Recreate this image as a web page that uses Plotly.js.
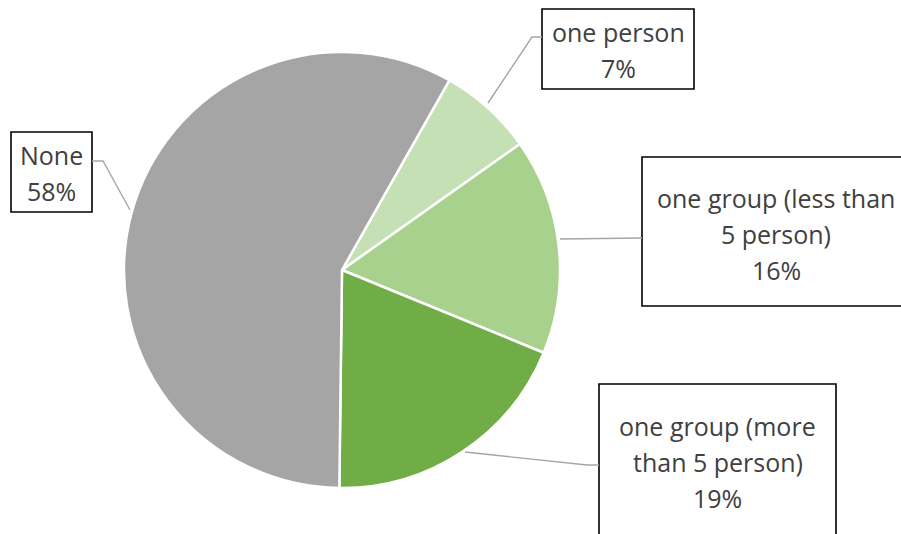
<!DOCTYPE html>
<html>
<head>
<meta charset="utf-8">
<script src="https://cdn.plot.ly/plotly-3.0.1.min.js"></script>
<style>html,body{margin:0;padding:0;background:#fff;}#chart{width:901px;height:534px;}</style>
</head>
<body>
<div id="chart"></div>
<script>
// ---- data ----
const categories = ["one person", "one group (less than 5 person)", "one group (more than 5 person)", "None"];
const labelLines = [["one person"], ["one group (less than", "5 person)"], ["one group (more", "than 5 person)"], ["None"]];
const values = [7, 16, 19, 58];
const colors = ["#C5E0B4", "#A9D18E", "#70AD47", "#A5A5A5"];

// ---- layout helpers (pixel -> paper) ----
const W = 901, H = 534;
const px = x => x / W;
const py = y => 1 - y / H;

// label box geometry (pixels): [left, top, right, bottom], leader path points
const boxes = [
  {box: [542, 9, 694, 89],  leader: [[542, 37], [532, 37], [488, 103]]},
  {box: [642, 157, 910, 306], leader: [[642, 238], [560, 239]]},
  {box: [599, 384, 836, 545], leader: [[599, 465], [587, 465], [465, 452]]},
  {box: [11, 132, 92, 212], leader: [[92, 161], [103, 161], [130, 210]]}
];
const lineGap = 36;

const total = values.reduce((a, b) => a + b, 0);
const shapes = [], annotations = [];
boxes.forEach((b, i) => {
  const [l, t, r, btm] = b.box;
  shapes.push({type: 'rect', xref: 'paper', yref: 'paper', x0: px(l), x1: px(r), y0: py(btm), y1: py(t),
    line: {color: '#000000', width: 1.6}, fillcolor: 'rgba(0,0,0,0)'});
  const d = b.leader.map((p, k) => (k ? 'L' : 'M') + px(p[0]) + ',' + py(p[1])).join(' ');
  shapes.push({type: 'path', xref: 'paper', yref: 'paper', path: d, line: {color: '#A6A6A6', width: 1.4}});
  const lines = labelLines[i].concat([Math.round(values[i] / total * 100) + '%']);
  let cx = (l + r) / 2;
  if (i === 1) cx = 776;
  let cy = (t + btm) / 2;
  if (i === 2) cy = 462;
  if (i === 3) cy = 173;
  if (i === 0) cy = 50;
  if (i === 1) cy = 234;
  const start = cy - (lines.length - 1) * lineGap / 2;
  lines.forEach((txt, k) => {
    annotations.push({xref: 'paper', yref: 'paper', x: px(cx), y: py(start + k * lineGap),
      xanchor: 'center', yanchor: 'middle', text: txt, showarrow: false,
      font: {family: 'Open Sans, sans-serif', size: 25, color: '#404040'}});
  });
});

const trace = {
  type: 'pie',
  labels: categories,
  values: values,
  sort: false,
  direction: 'clockwise',
  rotation: 29.5,
  textinfo: 'none',
  hoverinfo: 'label+percent',
  marker: {colors: colors, line: {color: '#ffffff', width: 2.5}},
  domain: {x: [124 / W, 560 / W], y: [1 - 488 / H, 1 - 52 / H]},
  showlegend: false
};

const layout = {
  width: W, height: H,
  margin: {l: 0, r: 0, t: 0, b: 0},
  paper_bgcolor: '#ffffff',
  plot_bgcolor: '#ffffff',
  showlegend: false,
  shapes: shapes,
  annotations: annotations
};

Plotly.newPlot('chart', [trace], layout, {displayModeBar: false, staticPlot: true});
</script>
</body>
</html>
